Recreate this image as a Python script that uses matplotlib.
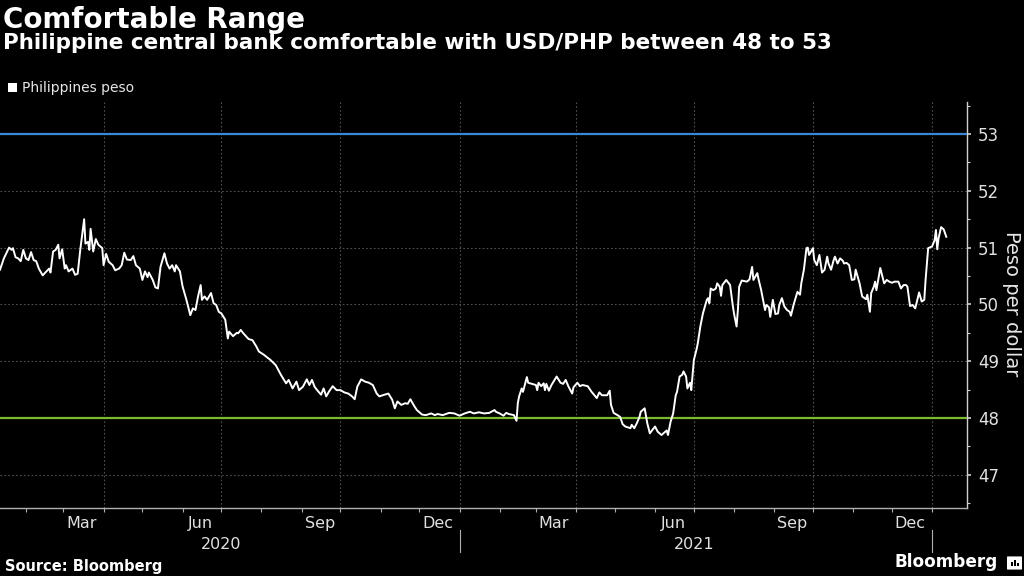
import matplotlib
matplotlib.use("Agg")
import matplotlib.pyplot as plt
import matplotlib.dates as mdates
from matplotlib.patches import Rectangle, FancyBboxPatch
from matplotlib.lines import Line2D
import pandas as pd

# ---------------- data ----------------
dates = [
 "2020-01-12","2020-01-15","2020-01-19","2020-01-21","2020-01-22","2020-01-24","2020-01-26","2020-01-28","2020-01-30",
 "2020-02-01","2020-02-03","2020-02-05","2020-02-07","2020-02-09","2020-02-11","2020-02-14","2020-02-16","2020-02-19",
 "2020-02-20","2020-02-22","2020-02-24","2020-02-26","2020-02-27","2020-02-29","2020-03-02","2020-03-03","2020-03-05",
 "2020-03-08","2020-03-10","2020-03-12","2020-03-14","2020-03-17","2020-03-18","2020-03-20","2020-03-21","2020-03-22",
 "2020-03-24","2020-03-26","2020-03-28","2020-03-31",
 "2020-04-01","2020-04-03","2020-04-05","2020-04-08","2020-04-10","2020-04-13","2020-04-15","2020-04-17","2020-04-19",
 "2020-04-22","2020-04-24","2020-04-26","2020-04-29","2020-05-01","2020-05-03","2020-05-05","2020-05-06","2020-05-09",
 "2020-05-11","2020-05-13","2020-05-15","2020-05-18","2020-05-20","2020-05-22","2020-05-24","2020-05-26","2020-05-27",
 "2020-05-30","2020-06-01","2020-06-04","2020-06-07","2020-06-09","2020-06-11","2020-06-13","2020-06-15","2020-06-16",
 "2020-06-18","2020-06-20","2020-06-23","2020-06-25","2020-06-27","2020-06-29",
 "2020-07-01","2020-07-04","2020-07-06","2020-07-07","2020-07-10","2020-07-13","2020-07-14","2020-07-16","2020-07-18",
 "2020-07-22","2020-07-25","2020-07-28","2020-07-30","2020-08-03","2020-08-08","2020-08-12","2020-08-16","2020-08-20",
 "2020-08-22","2020-08-25","2020-08-28","2020-08-30","2020-09-02","2020-09-05","2020-09-07","2020-09-09","2020-09-11",
 "2020-09-13","2020-09-16","2020-09-18","2020-09-20","2020-09-22","2020-09-25","2020-09-28",
 "2020-10-01","2020-10-04","2020-10-07","2020-10-10","2020-10-12","2020-10-14","2020-10-17","2020-10-20","2020-10-23",
 "2020-10-26","2020-10-29","2020-10-31","2020-11-04","2020-11-07","2020-11-10","2020-11-12","2020-11-14","2020-11-17",
 "2020-11-20","2020-11-22","2020-11-24","2020-11-27","2020-11-29","2020-12-03","2020-12-06","2020-12-10","2020-12-13",
 "2020-12-15","2020-12-19","2020-12-24","2020-12-28",
 "2021-01-01","2021-01-05","2021-01-09","2021-01-12","2021-01-16","2021-01-20","2021-01-24","2021-01-28","2021-01-29",
 "2021-02-01","2021-02-04","2021-02-06","2021-02-08","2021-02-12","2021-02-14","2021-02-15","2021-02-16","2021-02-18",
 "2021-02-19","2021-02-22","2021-02-23","2021-02-26","2021-03-01","2021-03-02","2021-03-03","2021-03-05","2021-03-07",
 "2021-03-08","2021-03-09","2021-03-11","2021-03-13","2021-03-17","2021-03-20","2021-03-22","2021-03-24","2021-03-26",
 "2021-03-29","2021-03-30",
 "2021-04-02","2021-04-04","2021-04-06","2021-04-10","2021-04-13","2021-04-17","2021-04-19","2021-04-21","2021-04-25",
 "2021-04-27","2021-04-28","2021-04-30","2021-05-03","2021-05-05","2021-05-07","2021-05-09","2021-05-13","2021-05-14",
 "2021-05-16","2021-05-18","2021-05-20","2021-05-21","2021-05-24","2021-05-26","2021-05-28","2021-05-30","2021-06-01",
 "2021-06-03","2021-06-06","2021-06-08","2021-06-10","2021-06-11","2021-06-13","2021-06-15","2021-06-17","2021-06-18",
 "2021-06-20","2021-06-22","2021-06-23","2021-06-25","2021-06-26","2021-06-28","2021-06-29",
 "2021-07-01","2021-07-03","2021-07-04","2021-07-06","2021-07-08","2021-07-11","2021-07-12","2021-07-13","2021-07-14",
 "2021-07-16","2021-07-18","2021-07-19","2021-07-21","2021-07-22","2021-07-23","2021-07-26","2021-07-29","2021-07-31",
 "2021-08-01","2021-08-03","2021-08-04","2021-08-05","2021-08-07","2021-08-11","2021-08-13","2021-08-15","2021-08-16",
 "2021-08-19","2021-08-20","2021-08-22","2021-08-25","2021-08-26","2021-08-28","2021-08-29","2021-08-31","2021-09-02",
 "2021-09-04","2021-09-05","2021-09-07","2021-09-09","2021-09-11","2021-09-13","2021-09-14","2021-09-16","2021-09-19",
 "2021-09-21","2021-09-22","2021-09-24","2021-09-26","2021-09-27","2021-09-28",
 "2021-10-01","2021-10-02","2021-10-04","2021-10-06","2021-10-08","2021-10-10","2021-10-12","2021-10-13","2021-10-15",
 "2021-10-17","2021-10-18","2021-10-20","2021-10-22","2021-10-24","2021-10-25","2021-10-27","2021-10-29","2021-10-31",
 "2021-11-02","2021-11-03","2021-11-06","2021-11-08","2021-11-11","2021-11-12","2021-11-14","2021-11-15","2021-11-17",
 "2021-11-18","2021-11-19","2021-11-22","2021-11-23","2021-11-25","2021-11-27","2021-11-29","2021-12-01","2021-12-03",
 "2021-12-06","2021-12-08","2021-12-10","2021-12-12","2021-12-13","2021-12-15","2021-12-17","2021-12-19","2021-12-20",
 "2021-12-22","2021-12-24","2021-12-26","2021-12-27","2021-12-29",
 "2022-01-01","2022-01-03","2022-01-04","2022-01-05","2022-01-06","2022-01-08","2022-01-10","2022-01-12",
]
peso = [
 50.61,50.81,51.00,50.96,50.99,50.83,50.81,50.76,50.96,
 50.81,50.78,50.92,50.78,50.76,50.63,50.51,50.56,50.63,
 50.56,50.93,50.96,51.05,50.81,50.97,50.63,50.69,50.58,
 50.63,50.52,50.54,50.96,51.50,51.07,51.10,50.96,51.33,
 50.93,51.15,51.05,50.99,
 50.69,50.89,50.75,50.69,50.60,50.63,50.69,50.91,50.79,
 50.78,50.85,50.69,50.63,50.43,50.58,50.48,50.56,50.43,
 50.30,50.28,50.66,50.90,50.72,50.63,50.69,50.58,50.69,
 50.58,50.32,50.08,49.81,49.93,49.90,50.14,50.34,50.08,
 50.14,50.08,50.20,50.02,49.99,49.87,
 49.84,49.73,49.40,49.52,49.44,49.50,49.49,49.55,49.49,
 49.39,49.37,49.26,49.17,49.11,49.02,48.93,48.76,48.61,
 48.67,48.52,48.64,48.49,48.55,48.68,48.58,48.67,48.55,
 48.49,48.41,48.52,48.38,48.46,48.56,48.49,
 48.49,48.45,48.43,48.38,48.33,48.55,48.68,48.64,48.62,
 48.58,48.43,48.38,48.41,48.43,48.32,48.17,48.29,48.23,
 48.26,48.25,48.33,48.21,48.14,48.06,48.05,48.08,48.05,
 48.07,48.05,48.09,48.08,
 48.04,48.08,48.11,48.08,48.10,48.08,48.09,48.14,48.11,
 48.08,48.04,48.09,48.07,48.05,47.95,48.26,48.38,48.52,
 48.46,48.72,48.62,48.60,48.58,48.49,48.62,48.56,48.61,
 48.49,48.60,48.48,48.58,48.73,48.62,48.60,48.67,48.56,
 48.43,48.54,
 48.62,48.56,48.58,48.56,48.46,48.35,48.45,48.40,48.40,
 48.48,48.23,48.09,48.05,48.02,47.89,47.85,47.82,47.88,
 47.82,47.91,48.02,48.11,48.17,47.91,47.73,47.79,47.85,
 47.76,47.70,47.74,47.78,47.70,47.93,48.08,48.40,48.46,
 48.73,48.76,48.82,48.73,48.52,48.62,48.49,
 49.02,49.20,49.31,49.61,49.84,50.08,50.11,50.02,50.28,
 50.25,50.28,50.37,50.31,50.15,50.34,50.43,50.34,49.99,
 49.84,49.61,49.90,50.31,50.42,50.40,50.44,50.66,50.43,
 50.55,50.44,50.25,49.90,49.99,49.95,49.78,50.08,49.83,
 49.84,49.99,50.11,49.96,49.90,49.87,49.80,49.99,50.22,
 50.17,50.37,50.61,50.99,51.00,50.87,
 50.99,50.78,50.69,50.87,50.56,50.61,50.84,50.72,50.61,
 50.78,50.84,50.72,50.81,50.77,50.72,50.73,50.69,50.43,
 50.44,50.61,50.37,50.14,50.09,50.17,49.87,50.20,50.31,
 50.40,50.25,50.64,50.55,50.37,50.43,50.40,50.38,50.40,
 50.40,50.28,50.34,50.34,50.31,49.97,49.99,49.93,50.02,
 50.21,50.05,50.08,50.43,50.99,
 51.02,51.13,51.31,50.97,51.16,51.36,51.32,51.19,
]
band_upper = 53
band_lower = 48
y_ticks = [47, 48, 49, 50, 51, 52, 53]
quarter_starts = ["2020-04-01", "2020-07-01", "2020-10-01", "2021-01-01",
                  "2021-04-01", "2021-07-01", "2021-10-01", "2022-01-01"]
year_labels = ["2020", "2021"]
year_centers = ["2020-07-01", "2021-07-01"]
year_breaks = ["2021-01-01", "2022-01-01"]

title = "Comfortable Range"
subtitle = "Philippine central bank comfortable with USD/PHP between 48 to 53"
series_name = "Philippines peso"
y_label = "Peso per dollar"
source = "Source: Bloomberg"

# ---------------- figure ----------------
W, H = 1024, 576
fig = plt.figure(figsize=(W / 100, H / 100), dpi=100, facecolor="black")
plt.rcParams["font.family"] = ["DejaVu Sans"]

ax = fig.add_axes([0, 1 - 508 / H, 967 / W, (508 - 102) / H])
ax.set_facecolor("black")

x = pd.to_datetime(dates)
ax.plot(x, peso, color="white", lw=1.4, zorder=5)

ax.axhline(band_upper, color="#3b87d6", lw=1.6, zorder=4)
ax.axhline(band_lower, color="#7dbb2e", lw=1.6, zorder=4)

grid_col = "#505050"
for v in y_ticks:
    ax.axhline(v, color=grid_col, lw=0.8, ls=(0, (1.5, 2)), zorder=1)
for d in quarter_starts:
    ax.axvline(pd.Timestamp(d), color=grid_col, lw=0.8, ls=(0, (1.5, 2)), zorder=1)

ax.set_xlim(pd.Timestamp("2020-01-12"), pd.Timestamp("2022-01-28"))
ax.set_ylim(46.415, 53.563)

# spines
for s in ["left", "top"]:
    ax.spines[s].set_visible(False)
ax.spines["right"].set_color("#d0d0d0")
ax.spines["bottom"].set_color("#b0b0b0")
ax.spines["right"].set_linewidth(1.0)
ax.spines["bottom"].set_linewidth(1.0)

# y axis on right
ax.yaxis.tick_right()
ax.set_yticks(y_ticks)
ax.set_yticks([v + 0.5 for v in [46] + y_ticks], minor=True)
ax.tick_params(axis="y", which="major", direction="out", length=3, width=1.2,
               color="#d0d0d0", labelcolor="#e0e0e0", labelsize=12, pad=5)
ax.tick_params(axis="y", which="minor", direction="out", length=2, width=0.8,
               color="#d0d0d0")

# x axis: labels at mid-month, ticks at month starts
ax.xaxis.set_major_locator(mdates.MonthLocator(bymonth=[3, 6, 9, 12], bymonthday=15))
ax.xaxis.set_major_formatter(mdates.DateFormatter("%b"))
ax.xaxis.set_minor_locator(mdates.MonthLocator(bymonthday=1))
ax.tick_params(axis="x", which="major", length=0, labelcolor="#e0e0e0",
               labelsize=11.5, pad=6)
ax.tick_params(axis="x", which="minor", direction="out", length=3, width=0.8,
               color="#b0b0b0")

trans = ax.get_xaxis_transform()
for lab, c in zip(year_labels, year_centers):
    ax.text(pd.Timestamp(c), -0.101, lab, transform=trans, ha="center",
            va="baseline", color="#e0e0e0", fontsize=11.5, clip_on=False)
for b in year_breaks:
    ax.add_line(Line2D([pd.Timestamp(b)] * 2, [-0.054, -0.108], transform=trans,
                       color="#b0b0b0", lw=0.8, clip_on=False))

# titles
fig.text(3 / W, 1 - 28 / H, title, color="white", fontsize=20, fontweight="bold",
         va="baseline", ha="left")
fig.text(3 / W, 1 - 49 / H, subtitle, color="white", fontsize=15.5,
         fontweight="bold", va="baseline", ha="left")

# legend
fig.patches.append(Rectangle((8 / W, 1 - 92 / H), 9 / W, 9 / H, transform=fig.transFigure,
                             facecolor="white", edgecolor="none"))
fig.text(22 / W, 1 - 92 / H, series_name, color="#e6e6e6", fontsize=10,
         va="baseline", ha="left")

# y label
fig.text(1012 / W, 1 - 304 / H, y_label, rotation=270, color="#e6e6e6",
         fontsize=14, va="center", ha="center")

# footer
fig.text(5 / W, 1 - 571 / H, source, color="white", fontsize=10.5,
         fontweight="bold", va="baseline", ha="left")
fig.text(895 / W, 1 - 567 / H, "Bloomberg", color="white", fontsize=12.2,
         fontweight="bold", va="baseline", ha="left")
fig.patches.append(FancyBboxPatch((1008 / W, 1 - 569 / H), 13 / W, 12 / H,
                                  boxstyle="round,pad=0.001", transform=fig.transFigure,
                                  facecolor="white", edgecolor="none"))
for i, hgt in enumerate([4, 6, 3]):
    fig.patches.append(Rectangle(((1011 + i * 3) / W, 1 - 566 / H), 1.5 / W, hgt / H,
                                 transform=fig.transFigure, facecolor="black",
                                 edgecolor="none"))

fig.savefig("out.png", dpi=100, facecolor="black")
